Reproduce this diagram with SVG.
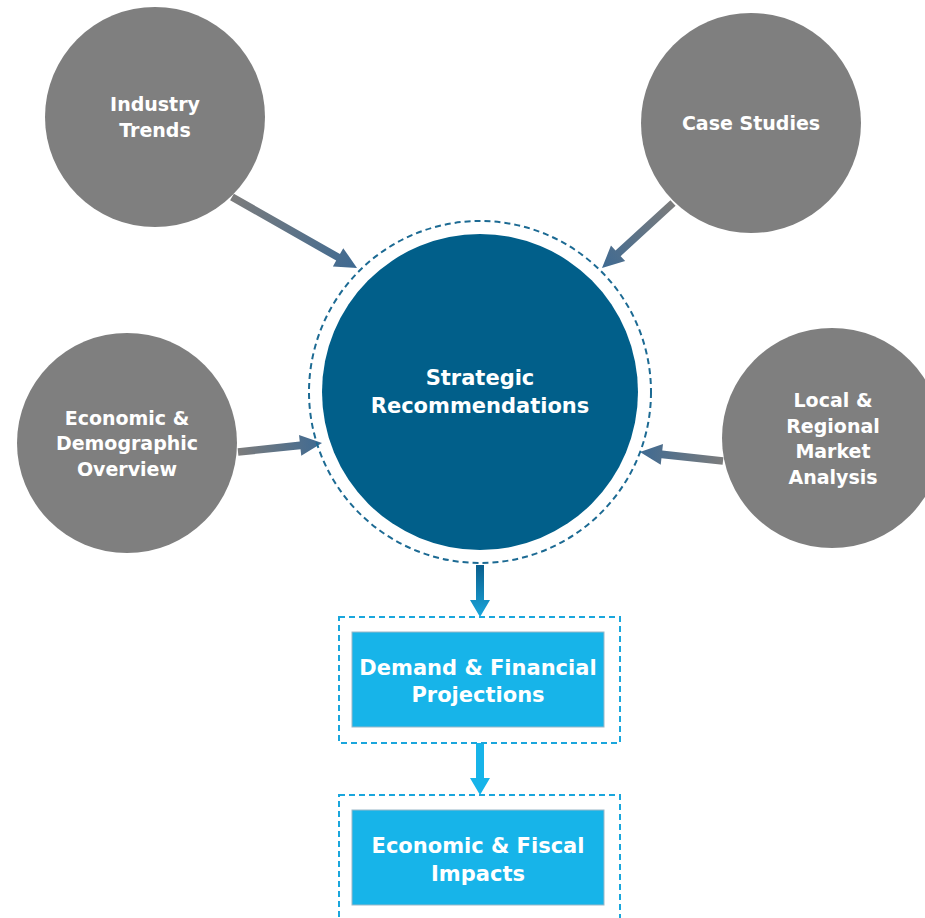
<svg xmlns="http://www.w3.org/2000/svg" width="925" height="918" viewBox="0 0 925 918">
<defs>
<linearGradient id="ga" x1="0" y1="0" x2="1" y2="0">
<stop offset="0" stop-color="#7c7c7c"/>
<stop offset="1" stop-color="#3f6a92"/>
</linearGradient>
<linearGradient id="gd" x1="0" y1="0" x2="0" y2="1">
<stop offset="0" stop-color="#0a5e8c"/>
<stop offset="1" stop-color="#1aa6dc"/>
</linearGradient>
<style>
.gc{fill:#7f7f7f}
.t{font-family:"DejaVu Sans","Liberation Sans",sans-serif;font-weight:bold;fill:#ffffff;text-anchor:middle;dominant-baseline:central}
.s19{font-size:19px}
.s21{font-size:21px}
.ring{fill:none;stroke:#1c6a93;stroke-width:2;stroke-dasharray:6 4}
.bring{fill:none;stroke:#1aa6dc;stroke-width:2;stroke-dasharray:6 4}
.box{fill:#17b4e9;stroke:#9ab8c8;stroke-width:1}
</style>
</defs>
<rect width="925" height="918" fill="#ffffff"/>

<g id="connectors">
<path transform="translate(232,197) rotate(29.6)" fill="url(#ga)" d="M0,-3.8 L122,-3.8 L122,-10.5 L143.8,0 L122,10.5 L122,3.8 L0,3.8 Z"/>
<path transform="translate(673,203) rotate(137.5)" fill="url(#ga)" d="M0,-3.8 L74.5,-3.8 L74.5,-10.5 L96.3,0 L74.5,10.5 L74.5,3.8 L0,3.8 Z"/>
<path transform="translate(238,452) rotate(-6.1)" fill="url(#ga)" d="M0,-3.8 L62.5,-3.8 L62.5,-10.5 L84.5,0 L62.5,10.5 L62.5,3.8 L0,3.8 Z"/>
<path transform="translate(723,461) rotate(186.2)" fill="url(#ga)" d="M0,-3.8 L61.5,-3.8 L61.5,-10.5 L83.5,0 L61.5,10.5 L61.5,3.8 L0,3.8 Z"/>
<path fill="url(#gd)" d="M476,565 L484,565 L484,600 L490,600 L480,617 L470,600 L476,600 Z"/>
<path fill="#17b4e9" d="M476,743 L484,743 L484,778 L490,778 L480,795 L470,778 L476,778 Z"/>
</g>

<g id="industry-trends">
<circle class="gc" cx="155" cy="117" r="110"/>
<text class="t s19" x="155" y="104">Industry</text>
<text class="t s19" x="155" y="130">Trends</text>
</g>

<g id="case-studies">
<circle class="gc" cx="751" cy="123" r="110"/>
<text class="t s19" x="751" y="123">Case Studies</text>
</g>

<g id="economic-demographic">
<circle class="gc" cx="127" cy="443" r="110"/>
<text class="t s19" x="127" y="418">Economic &amp;</text>
<text class="t s19" x="127" y="443">Demographic</text>
<text class="t s19" x="127" y="469">Overview</text>
</g>

<g id="local-regional">
<circle class="gc" cx="832" cy="438" r="110"/>
<text class="t s19" x="833" y="400">Local &amp;</text>
<text class="t s19" x="833" y="426">Regional</text>
<text class="t s19" x="833" y="451">Market</text>
<text class="t s19" x="833" y="477">Analysis</text>
</g>

<g id="strategic-recommendations">
<circle class="ring" cx="480" cy="392" r="171"/>
<circle cx="480" cy="392" r="158" fill="#015f8a"/>
<text class="t s21" x="480" y="378">Strategic</text>
<text class="t s21" x="480" y="406">Recommendations</text>
</g>

<g id="demand-financial">
<rect class="bring" x="339" y="617" width="281" height="126"/>
<rect class="box" x="352" y="632" width="252" height="95"/>
<text class="t s21" x="478" y="668">Demand &amp; Financial</text>
<text class="t s21" x="478" y="695">Projections</text>
</g>

<g id="economic-fiscal">
<rect class="bring" x="339" y="795" width="281" height="130"/>
<rect class="box" x="352" y="810" width="252" height="95"/>
<text class="t s21" x="478" y="846">Economic &amp; Fiscal</text>
<text class="t s21" x="478" y="874">Impacts</text>
</g>
</svg>
